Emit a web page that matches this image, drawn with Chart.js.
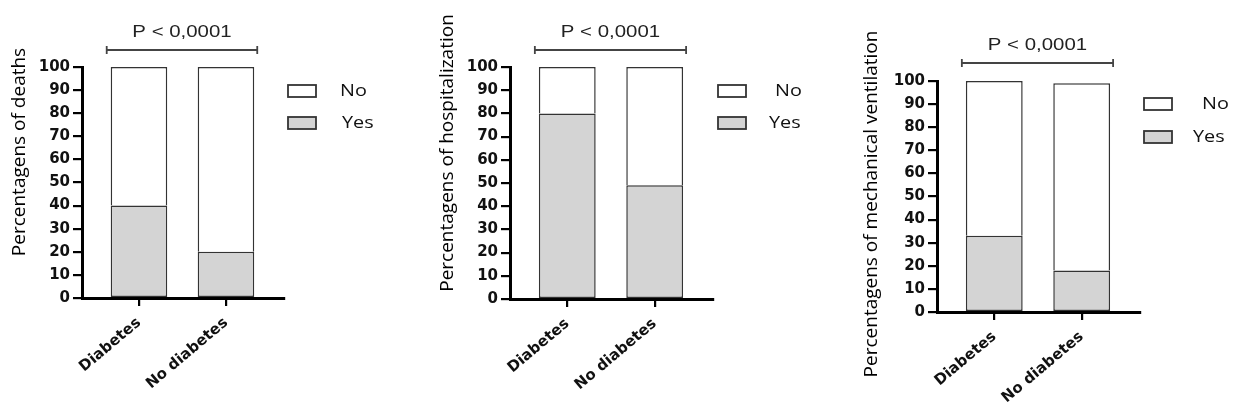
<!DOCTYPE html>
<html>
<head>
<meta charset="utf-8">
<script src="https://cdn.jsdelivr.net/npm/chart.js@4.4.0/dist/chart.umd.min.js"></script>
<style>
  html, body { margin: 0; padding: 0; background: #fff; }
  #wrap { position: relative; width: 1243px; height: 416px; overflow: hidden; }
  canvas { position: absolute; top: 0; }
</style>
</head>
<body>
<div id="wrap">
  <canvas id="c1" width="420" height="416" style="left:0px"></canvas>
  <canvas id="c2" width="410" height="416" style="left:420px"></canvas>
  <canvas id="c3" width="413" height="416" style="left:830px"></canvas>
</div>
<script>
// data (percentages, Yes stacked under No)
const categories = ['Diabetes', 'No diabetes'];
const yTickValues = [0, 10, 20, 30, 40, 50, 60, 70, 80, 90, 100];

const deathsYes = [40, 20];
const deathsNo = [60, 80];
const hospYes = [80, 49];
const hospNo = [20, 51];
const ventYes = [33, 18];
const ventNo = [67, 81];

const pLabel = 'P < 0,0001';
const yTitles = ['Percentagens of deaths', 'Percentagens of hospitalization', 'Percentagens of mechanical ventilation'];

const GRAY = '#d4d4d4';
const EDGE = '#333333';

// draws axis title, p-value bracket and the legend
const deco = {
  id: 'deco',
  afterDraw(chart, args, o) {
    const ctx = chart.ctx;

    ctx.save();
    ctx.translate(o.titleX, o.titleY);
    ctx.rotate(-Math.PI / 2);
    ctx.font = '19px "Open Sans"';
    ctx.fillStyle = '#000';
    ctx.textAlign = 'center';
    ctx.textBaseline = 'middle';
    ctx.fillText(o.title, 0, 0);
    ctx.restore();

    const bars = chart.getDatasetMeta(1).data;
    const b0 = bars[0], b1 = bars[bars.length - 1];
    const x0 = b0.x - b0.width / 2 - 4;
    const x1 = b1.x + b1.width / 2 + 3;
    ctx.save();
    ctx.strokeStyle = '#444';
    ctx.lineWidth = 1.8;
    ctx.beginPath();
    ctx.moveTo(x0, o.bracketY); ctx.lineTo(x1, o.bracketY);
    ctx.moveTo(x0, o.bracketY - 4); ctx.lineTo(x0, o.bracketY + 4);
    ctx.moveTo(x1, o.bracketY - 4); ctx.lineTo(x1, o.bracketY + 4);
    ctx.stroke();
    ctx.translate((x0 + x1) / 2, o.pY);
    ctx.scale(1.2, 1);
    ctx.font = '17px "Liberation Sans"';
    ctx.fillStyle = '#222';
    ctx.textAlign = 'center';
    ctx.textBaseline = 'middle';
    ctx.fillText(pLabel, 0, 0);
    ctx.restore();

    // legend: No on top, Yes below
    const order = [1, 0];
    order.forEach((di, k) => {
      const ds = chart.data.datasets[di];
      const y = o.legendY[k];
      ctx.save();
      ctx.fillStyle = ds.backgroundColor;
      ctx.strokeStyle = '#333';
      ctx.lineWidth = 1.8;
      ctx.fillRect(o.legendX, y - 6, 28, 12);
      ctx.strokeRect(o.legendX, y - 6, 28, 12);
      ctx.translate(o.legendTextX[k], y);
      ctx.scale(1.2, 1);
      ctx.font = '16.5px "Open Sans"';
      ctx.fillStyle = '#111';
      ctx.textAlign = 'left';
      ctx.textBaseline = 'middle';
      ctx.fillText(ds.label, 0, 0);
      ctx.restore();
    });
  }
};

function makePanel(id, yes, no, box) {
  const canvas = document.getElementById(id);
  const W = canvas.width, H = canvas.height;
  const toXY = arr => arr.map((v, i) => ({ x: i, y: v }));
  new Chart(canvas, {
    type: 'bar',
    data: {
      datasets: [
        { label: 'Yes', data: toXY(yes), backgroundColor: GRAY, borderColor: EDGE, borderWidth: 1.5, borderSkipped: false },
        { label: 'No', data: toXY(no), backgroundColor: '#ffffff', borderColor: EDGE, borderWidth: 1.5, borderSkipped: 'start' }
      ]
    },
    options: {
      responsive: false,
      animation: false,
      layout: { padding: { left: 0, top: box.top, right: W - box.right, bottom: 0 } },
      barPercentage: 0.65,
      categoryPercentage: 1,
      plugins: {
        legend: { display: false },
        tooltip: { enabled: false },
        deco: {
          title: box.title, titleX: box.titleX, titleY: box.titleY,
          pY: box.pY, bracketY: box.bracketY,
          legendX: box.legendX, legendY: box.legendY, legendTextX: box.legendTextX
        }
      },
      scales: {
        x: {
          type: 'linear',
          stacked: true,
          bounds: 'data',
          min: -0.655,
          max: 1.667,
          offset: false,
          afterBuildTicks: s => { s.ticks = categories.map((c, i) => ({ value: i })); },
          afterFit: s => { s.height = H - box.bottom; },
          grid: { offset: false, drawOnChartArea: false, drawTicks: true, tickLength: 8, color: '#000', lineWidth: 2.2 },
          border: { display: true, color: '#000', width: 3 },
          ticks: {
            autoSkip: false,
            minRotation: 40,
            maxRotation: 40,
            padding: 8,
            color: '#111',
            font: { family: '"DejaVu Sans"', size: 15, weight: 'bold' },
            callback: v => categories[v]
          }
        },
        y: {
          stacked: true,
          min: 0,
          max: 100,
          afterBuildTicks: s => { s.ticks = yTickValues.map(v => ({ value: v })); },
          afterFit: s => { s.width = box.left; },
          grid: { drawOnChartArea: false, drawTicks: true, tickLength: 9, color: '#000', lineWidth: 2.2 },
          border: { display: true, color: '#000', width: 3 },
          ticks: {
            padding: 3,
            color: '#111',
            font: { family: '"DejaVu Sans"', size: 15, weight: 'bold' }
          }
        }
      }
    },
    plugins: [deco]
  });
}

makePanel('c1', deathsYes, deathsNo, {
  left: 82, right: 284, top: 67, bottom: 298,
  title: yTitles[0], titleX: 20, titleY: 152,
  pY: 32, bracketY: 50,
  legendX: 288, legendY: [91, 123], legendTextX: [340, 342]
});
makePanel('c2', hospYes, hospNo, {
  left: 90, right: 293, top: 67, bottom: 299,
  title: yTitles[1], titleX: 28, titleY: 153,
  pY: 32, bracketY: 50,
  legendX: 298, legendY: [91, 123], legendTextX: [355, 349]
});
makePanel('c3', ventYes, ventNo, {
  left: 107, right: 310, top: 81, bottom: 312,
  title: yTitles[2], titleX: 42, titleY: 204,
  pY: 45, bracketY: 63,
  legendX: 314, legendY: [104, 137], legendTextX: [372, 363]
});
</script>
</body>
</html>
